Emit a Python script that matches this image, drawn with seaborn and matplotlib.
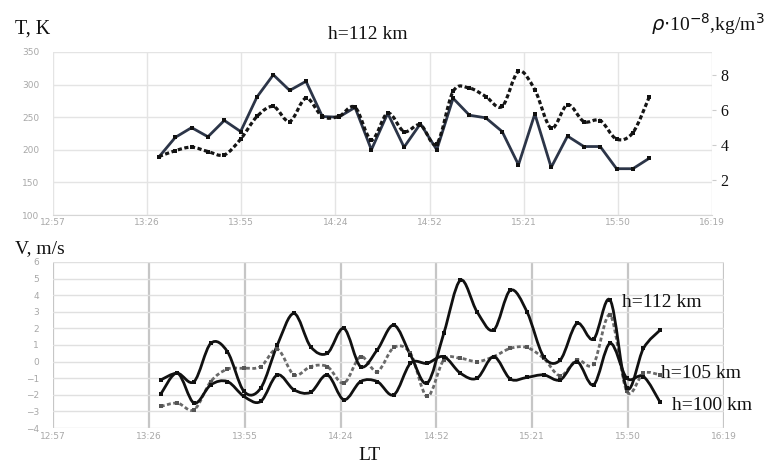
import numpy as np
import pandas as pd
import seaborn as sns
import matplotlib
matplotlib.use("Agg")
import matplotlib.pyplot as plt
from matplotlib.path import Path
from matplotlib.patches import PathPatch

# ---- data -------------------------------------------------------------
times = ["13:30", "13:35", "13:40", "13:45", "13:50", "13:55", "14:00", "14:05",
         "14:10", "14:15", "14:20", "14:25", "14:30", "14:35", "14:40", "14:45",
         "14:50", "14:55", "15:00", "15:05", "15:10", "15:15", "15:20", "15:25",
         "15:30", "15:35", "15:40", "15:45", "15:50", "15:55", "16:00"]

temperature = [189, 219, 234, 220, 245, 228, 281, 315, 291, 305, 251, 250, 265,
               200, 256, 204, 240, 200, 279, 253, 249, 228, 177, 255, 173, 221,
               205, 205, 171, 171, 187]

density = [3.33, 3.67, 3.87, 3.62, 3.43, 4.33, 5.62, 6.19, 5.33, 6.67, 5.62,
           5.62, 6.15, 4.29, 5.81, 4.76, 5.14, 4.06, 7.05, 7.24, 6.76, 6.19,
           8.19, 7.14, 4.95, 6.29, 5.33, 5.39, 4.33, 4.70, 6.73]

wind_112 = [-1.1, -0.7, -1.2, 1.1, 0.6, -1.8, -1.6, 1.0, 2.9, 0.9, 0.5, 2.0,
            -0.3, 0.7, 2.2, 0.4, -1.3, 1.7, 4.9, 3.0, 1.9, 4.3, 3.0, 0.3, 0.1,
            2.3, 1.35, 3.7, -1.6, 0.8, 1.9]

wind_105 = [-2.7, -2.5, -2.9, -1.2, -0.45, -0.4, -0.3, 0.75, -0.8, -0.3, -0.3,
            -1.3, 0.3, -0.6, 0.85, 0.5, -2.1, 0.1, 0.2, 0.0, 0.3, 0.8, 0.85,
            0.2, -0.85, 0.1, -0.15, 2.8, -1.8, -0.7, -0.8]

wind_100 = [-1.95, -0.7, -2.5, -1.4, -1.2, -2.1, -2.4, -0.8, -1.7, -1.85, -0.8,
            -2.3, -1.2, -1.2, -2.0, -0.1, -0.1, 0.3, -0.7, -1.0, 0.3, -1.05,
            -0.95, -0.8, -1.1, 0.0, -1.4, 1.1, -1.0, -0.9, -2.45]

tick_labels = ["12:57", "13:26", "13:55", "14:24", "14:52", "15:21", "15:50", "16:19"]
axis_start = "12:57:36"
tick_step_min = 28.8

t_ticks = [100, 150, 200, 250, 300, 350]
rho_ticks = [2, 4, 6, 8]
v_ticks = [-4, -3, -2, -1, 0, 1, 2, 3, 4, 5, 6]


def to_minutes(s):
    parts = [float(p) for p in s.split(":")]
    while len(parts) < 3:
        parts.append(0.0)
    return parts[0] * 60 + parts[1] + parts[2] / 60


df = pd.DataFrame({
    "t": [to_minutes(s) for s in times],
    "T": temperature,
    "rho": density,
    "v112": wind_112,
    "v105": wind_105,
    "v100": wind_100,
})

x0 = to_minutes(axis_start)
xticks = [x0 + tick_step_min * k for k in range(len(tick_labels))]
xlim = (xticks[0], xticks[-1])


def smooth_path(x, y):
    """Cubic Bezier path through every point (spreadsheet-style smoothed line)."""
    x = np.asarray(x, float)
    y = np.asarray(y, float)
    n = len(x)
    verts = [(x[0], y[0])]
    codes = [Path.MOVETO]
    for i in range(n - 1):
        xa, ya = (x[i - 1], y[i - 1]) if i > 0 else (x[i], y[i])
        xb, yb = (x[i + 2], y[i + 2]) if i + 2 < n else (x[i + 1], y[i + 1])
        c1 = (x[i] + (x[i + 1] - xa) / 6, y[i] + (y[i + 1] - ya) / 6)
        c2 = (x[i + 1] - (xb - x[i]) / 6, y[i + 1] - (yb - y[i]) / 6)
        verts += [c1, c2, (x[i + 1], y[i + 1])]
        codes += [Path.CURVE4] * 3
    return Path(verts, codes)


def smooth_line(ax, x, y, color, lw, dashes=None, z=3):
    ls = "-" if dashes is None else (0, dashes)
    patch = PathPatch(smooth_path(x, y), fill=False, edgecolor=color, lw=lw,
                      linestyle=ls, zorder=z, capstyle="butt", joinstyle="round")
    ax.add_patch(patch)


# ---- style ------------------------------------------------------------
sns.set_style("white")
plt.rcParams["font.family"] = ["DejaVu Sans"]
serif = ["Liberation Serif", "DejaVu Serif"]
tick_color = "#a8a8a8"

fig = plt.figure(figsize=(7.66, 4.67), dpi=100)
ax_t = fig.add_axes([0.0692, 0.5396, 0.8603, 0.3491])
ax_r = ax_t.twinx()
ax_v = fig.add_axes([0.0692, 0.0835, 0.8760, 0.3555])

# ---- upper panel: temperature and density ------------------------------
sns.lineplot(data=df, x="t", y="T", ax=ax_t, color="#2c3548", lw=2.0,
             marker="s", markersize=3.5, markeredgewidth=0,
             markerfacecolor="#111111", zorder=4)

smooth_line(ax_r, df["t"], df["rho"], "#151515", 2.3, dashes=(1.3, 0.8))
sns.scatterplot(data=df, x="t", y="rho", ax=ax_r, color="#111111", s=10,
                marker="s", linewidth=0, zorder=5)

ax_t.set_xlim(*xlim)
ax_t.set_ylim(100, 350)
ax_t.set_yticks(t_ticks)
ax_t.set_xticks(xticks)
ax_t.set_xticklabels(tick_labels)
ax_t.grid(True, color="#e4e4e4", lw=1)
ax_t.set_xlabel("")
ax_t.set_ylabel("")
ax_t.tick_params(axis="both", length=0, labelsize=6.5, labelcolor=tick_color)
ax_t.tick_params(axis="y", pad=10)
ax_t.tick_params(axis="x", pad=2)

ax_r.set_ylim(0, 9.3)
ax_r.set_yticks(rho_ticks)
ax_r.set_ylabel("")
ax_r.set_xlabel("")
ax_r.tick_params(axis="y", length=3, color="#cccccc", pad=3, labelsize=11.5,
                 labelcolor="#111111")
for lab in ax_r.get_yticklabels():
    lab.set_family(serif)
ax_r.grid(False)

for a in (ax_t, ax_r):
    for side, sp in a.spines.items():
        sp.set_visible(False)
ax_t.spines["bottom"].set_visible(True)
ax_t.spines["bottom"].set_color("#d6d6d6")

# ---- lower panel: wind velocity ---------------------------------------
smooth_line(ax_v, df["t"], df["v105"], "#6a6a6a", 2.0, dashes=(1.4, 0.9), z=3)
smooth_line(ax_v, df["t"], df["v100"], "#111111", 2.0, z=4)
smooth_line(ax_v, df["t"], df["v112"], "#111111", 2.0, z=4)
for col, colr in (("v105", "#555555"), ("v100", "#111111"), ("v112", "#111111")):
    sns.scatterplot(data=df, x="t", y=col, ax=ax_v, color=colr, s=9,
                    marker="s", linewidth=0, zorder=5)

ax_v.set_xlim(*xlim)
ax_v.set_ylim(-4, 6)
ax_v.set_yticks(v_ticks)
ax_v.set_xticks(xticks)
ax_v.set_xticklabels(tick_labels)
ax_v.grid(axis="y", color="#e0e0e0", lw=1)
ax_v.grid(axis="x", color="#c6c6c6", lw=1.6)
ax_v.set_xlabel("")
ax_v.set_ylabel("")
ax_v.tick_params(axis="both", length=0, labelsize=6.5, labelcolor=tick_color)
ax_v.tick_params(axis="y", pad=10)
ax_v.tick_params(axis="x", pad=3)
for sp in ax_v.spines.values():
    sp.set_visible(False)

# ---- annotations --------------------------------------------------------
W, H = 766, 467


def ftext(px, py, s, size=14):
    fig.text(px / W, 1 - py / H, s, ha="left", va="baseline",
             fontsize=size, family=serif, color="#111111")


ftext(15, 34, "T, K", 14.5)
ftext(328, 39, "h=112 km", 14)
ftext(651, 31, r"$\rho$$\cdot$10$^{-8}$,kg/m$^{3}$", 14)
ftext(15, 253, "V, m/s", 14)
ftext(358, 460, "LT", 14)
ftext(622, 307, "h=112 km", 14)
ftext(661, 378, "h=105 km", 14)
ftext(672, 410, "h=100 km", 14)

fig.savefig("out.png", dpi=100)
